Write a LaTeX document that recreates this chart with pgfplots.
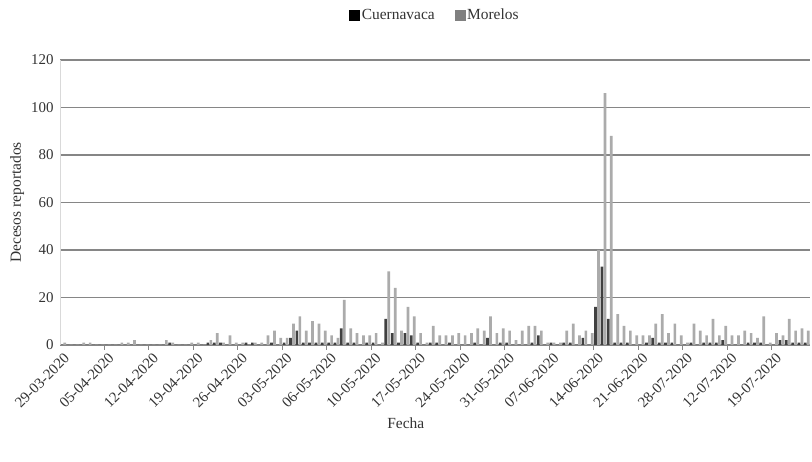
\documentclass[border=0pt]{standalone}
\usepackage{fontspec}
\setmainfont{Liberation Serif}
\usepackage{pgfplots}
\usepackage{pgfplotstable}
\pgfplotsset{compat=1.18}

\definecolor{cuerna}{HTML}{404040}
\definecolor{morel}{HTML}{ABABAB}
\definecolor{gridc}{HTML}{868686}
\definecolor{txt}{HTML}{333333}

% i = day index, c = Cuernavaca, m = Morelos
\pgfplotstableread{
i c m
0 0 1
1 0 0
2 0 0
3 0 1
4 0 1
5 0 0
6 0 0
7 0 0
8 0 0
9 0 1
10 0 1
11 0 2
12 0 0
13 0 0
14 0 0
15 0 0
16 0 2
17 1 1
18 0 0
19 0 0
20 0 1
21 0 1
22 0 0
23 1 2
24 1 5
25 1 1
26 0 4
27 0 1
28 0 1
29 1 0
30 1 1
31 0 1
32 0 4
33 1 6
34 0 3
35 1 3
36 3 9
37 6 12
38 1 6
39 1 10
40 1 9
41 1 6
42 1 4
43 1 3
44 7 19
45 1 7
46 1 5
47 0 4
48 1 4
49 1 5
50 0 1
51 11 31
52 5 24
53 1 6
54 5 16
55 4 12
56 1 5
57 0 1
58 1 8
59 1 4
60 0 4
61 1 4
62 0 5
63 0 4
64 0 5
65 1 7
66 0 6
67 3 12
68 0 5
69 1 7
70 1 6
71 0 2
72 0 6
73 0 8
74 1 8
75 4 6
76 0 1
77 1 1
78 0 1
79 1 6
80 1 9
81 0 4
82 3 6
83 0 5
84 16 40
85 33 106
86 11 88
87 1 13
88 1 8
89 1 6
90 0 4
91 0 4
92 1 4
93 3 9
94 1 13
95 1 5
96 1 9
97 0 4
98 0 1
99 1 9
100 0 6
101 1 4
102 1 11
103 1 4
104 2 8
105 0 4
106 0 4
107 0 6
108 1 5
109 1 3
110 1 12
111 0 1
112 0 5
113 2 4
114 2 11
115 1 6
116 1 7
117 1 6
}\deaths

\begin{document}
\begin{tikzpicture}[x=1bp,y=1bp]
\useasboundingbox (0,0) rectangle (812,462);
\begin{axis}[
    at={(60bp,117bp)}, anchor=south west,
    scale only axis, width=750bp, height=285bp,
    ybar=0.4bp, bar width=2.7bp,
    xmin=-0.5, xmax=117.5, ymin=0, ymax=120,
    ytick={0,20,...,120},
    ymajorgrids, grid style={gridc, line width=1.3bp},
    axis x line*=bottom, axis y line*=left,
    x axis line style={gridc, line width=1bp, -},
    y axis line style={gray!30, line width=0.8bp, -},
    ytick style={draw=none},
    xtick={0,7,...,112},
    xticklabels={29-03-2020,05-04-2020,12-04-2020,19-04-2020,26-04-2020,03-05-2020,06-05-2020,10-05-2020,17-05-2020,24-05-2020,31-05-2020,07-06-2020,14-06-2020,21-06-2020,28-07-2020,12-07-2020,19-07-2020},
    major x tick style={draw=none},
    extra x ticks={6.5,13.5,...,111.5},
    extra x tick labels={},
    extra x tick style={tick align=outside, major tick length=5bp,
        major x tick style={draw=gridc, line width=1bp}},
    /pgf/number format/assume math mode=true,
    x tick label style={rotate=45, anchor=north east, inner sep=2bp,
        font=\fontsize{15}{15}\selectfont, text=txt},
    y tick label style={font=\fontsize{15}{15}\selectfont, text=txt, xshift=-3bp},
    xlabel={Fecha},
    xlabel style={at={(axis description cs:0.461,-0.274)}, anchor=center,
        font=\fontsize{15.5}{15.5}\selectfont, text=txt},
    ylabel={Decesos reportados},
    ylabel style={font=\fontsize{15.5}{15.5}\selectfont, text=txt},
    legend style={at={(axis description cs:0.5,1.158)}, anchor=center, draw=none,
        legend columns=2, font=\fontsize{15.5}{15.5}\selectfont, text=txt,
        /tikz/every even column/.append style={column sep=18bp}},
    legend image code/.code={\fill[#1] (0bp,-5bp) rectangle (10bp,5bp);},
]
\addplot[fill=cuerna, draw=none, bar shift=-1.5bp, forget plot] table[x=i, y=c] {\deaths};
\addplot[fill=morel, draw=none, bar shift=1.5bp, forget plot] table[x=i, y=m] {\deaths};
\addlegendimage{black}
\addlegendentry{Cuernavaca}
\addlegendimage{gray}
\addlegendentry{Morelos}
\end{axis}
\end{tikzpicture}
\end{document}
